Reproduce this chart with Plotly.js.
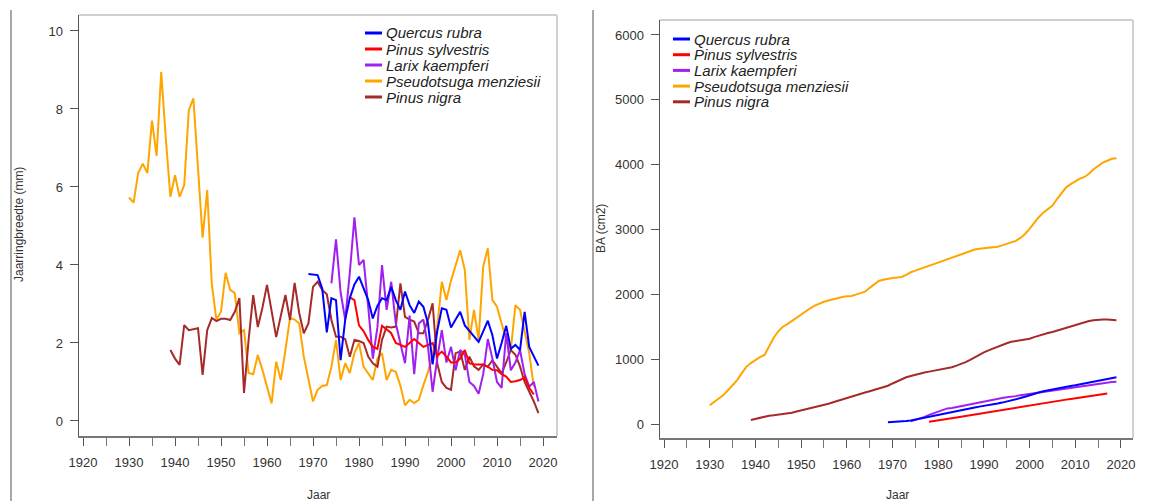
<!DOCTYPE html>
<html><head><meta charset="utf-8">
<script src="https://cdn.plot.ly/plotly-3.0.1.min.js"></script>
<style>html,body{margin:0;padding:0;background:#fff}#chart{width:1161px;height:501px}</style>
</head><body><div id="chart"></div><script>
// ---- data ----
const speciesNames = ['Quercus rubra','Pinus sylvestris','Larix kaempferi','Pseudotsuga menziesii','Pinus nigra'];
const speciesColors = ['#0000ff','#ff0000','#a020f0','#ffa500','#a52a2a'];

// ring width (mm), first year of each series
const rwStart = {quercus:1969, sylvestris:1978, larix:1974, pseudotsuga:1930, nigra:1939};
const rwQuercus = [3.77,3.76,3.74,3.4,2.27,3.15,3.1,1.56,2.6,3.15,3.5,3.7,3.4,3.1,2.63,2.95,3.15,3.1,3.44,3.1,2.85,3.32,2.97,2.77,3.06,2.93,2.5,1.45,2.3,2.89,2.85,2.4,2.6,2.8,2.45,2.3,2.15,2.03,2.3,2.57,2.2,1.6,2.0,2.44,1.85,1.95,1.82,2.8,1.9,1.65,1.42];
const rwSylvestris = [3.17,3.1,2.45,2.3,2.08,1.9,1.85,2.44,2.35,2.25,2.0,1.95,1.9,2.0,2.1,2.0,1.9,1.95,2.0,1.67,1.78,1.65,1.5,1.5,1.6,1.82,1.48,1.45,1.45,1.45,1.39,1.31,1.3,1.2,1.14,1.0,1.02,1.05,1.12,0.85,0.68];
const rwLarix = [3.53,4.66,3.3,2.6,3.8,5.22,4.0,4.13,2.93,1.6,2.4,4.0,2.85,3.57,2.5,2.0,1.48,2.7,1.2,2.5,2.6,1.9,0.75,1.6,2.33,1.5,1.9,1.3,1.82,1.7,1.0,0.9,0.7,1.2,2.1,1.6,1.0,0.85,2.25,1.3,1.5,1.82,1.2,0.88,1.0,0.5];
const rwPseudotsuga = [5.73,5.6,6.36,6.6,6.36,7.7,6.8,8.95,7.25,5.75,6.3,5.75,6.05,7.97,8.27,6.36,4.7,5.92,3.5,2.6,2.8,3.8,3.36,3.28,2.25,2.33,1.23,1.2,1.69,1.31,0.88,0.45,1.52,1.05,1.82,2.64,2.6,2.5,1.65,1.1,0.5,0.8,0.9,0.92,1.39,2.08,1.05,1.48,1.23,1.74,2.0,1.39,1.23,1.05,1.6,1.74,1.05,1.31,1.26,0.9,0.4,0.54,0.46,0.54,0.92,1.26,1.7,2.4,3.57,3.1,3.6,4.0,4.38,3.87,2.08,2.85,2.08,3.96,4.43,3.1,2.93,2.5,2.08,1.82,2.97,2.85,2.25,1.74,0.88];
const rwNigra = [1.82,1.6,1.44,2.46,2.33,2.35,2.38,1.18,2.33,2.64,2.56,2.62,2.62,2.59,2.8,3.15,0.72,2.08,3.23,2.41,2.9,3.49,2.77,2.15,2.7,3.23,2.59,3.54,2.77,2.25,2.5,3.44,3.57,3.36,3.25,2.59,2.16,2.16,2.1,1.65,2.08,2.05,2.0,1.65,1.48,1.39,2.08,2.42,2.4,2.42,3.53,2.67,2.6,2.55,2.25,2.25,2.6,3.02,1.48,1.0,0.85,0.8,1.74,1.78,1.31,1.65,1.4,1.31,1.45,1.39,1.56,1.4,1.22,1.5,1.82,1.7,1.4,1.0,0.75,0.5,0.2];

// basal area (cm2), first year of each series
const baStart = {quercus:1969, sylvestris:1978, larix:1974, pseudotsuga:1930, nigra:1939};
const baQuercus = [25,28,32,36,45,55,70,85,100,115,130,145,160,175,190,205,220,232,245,256,268,278,288,298,315,330,345,360,380,400,420,445,465,485,505,520,535,548,560,572,585,597,610,622,635,650,665,680,695,710,720];
const baSylvestris = [36,45,55,66,77,88,99,111,123,135,147,158,170,181,193,204,215,227,238,250,261,273,284,296,308,319,331,342,353,365,376,387,398,410,421,432,443,453,463,472];
const baLarix = [40,60,85,110,140,165,195,225,240,248,262,280,295,315,328,342,352,365,375,388,402,412,418,430,445,455,468,478,490,502,510,518,525,535,548,560,570,578,592,602,612,625,633,640,648,652];
const baPseudotsuga = [290,340,395,446,520,600,677,780,882,940,990,1030,1065,1200,1330,1430,1500,1540,1590,1630,1680,1735,1785,1825,1860,1885,1905,1925,1940,1960,1970,1975,1995,2015,2040,2100,2160,2205,2225,2240,2250,2258,2268,2300,2340,2365,2390,2415,2440,2470,2497,2525,2550,2575,2600,2625,2650,2675,2690,2703,2710,2715,2720,2735,2755,2780,2800,2825,2870,2930,3010,3100,3190,3260,3320,3370,3470,3570,3650,3700,3745,3785,3810,3860,3930,3985,4030,4060,4090,4100];
const baNigra = [62,80,100,118,128,136,145,150,160,175,192,208,225,245,262,280,290,312,335,358,380,402,425,446,465,485,505,525,545,565,590,625,660,695,720,740,762,780,795,808,822,835,848,860,875,900,925,955,990,1030,1070,1105,1135,1165,1190,1215,1245,1268,1280,1288,1295,1315,1340,1365,1385,1403,1420,1442,1465,1487,1508,1530,1550,1570,1588,1600,1608,1612,1612,1605,1600];

const xTickVals = [1920,1930,1940,1950,1960,1970,1980,1990,2000,2010,2020];
const yTickValsRW = [0,2,4,6,8,10];
const yTickValsBA = [0,1000,2000,3000,4000,5000,6000];

// ---- build ----
function yearsFrom(start, vals){ return vals.map((v,i)=>start+i); }
const rwSeries = [rwQuercus, rwSylvestris, rwLarix, rwPseudotsuga, rwNigra];
const baSeries = [baQuercus, baSylvestris, baLarix, baPseudotsuga, baNigra];
const keys = ['quercus','sylvestris','larix','pseudotsuga','nigra'];
const drawOrder = [3,4,2,1,0];

const traces = [];
drawOrder.forEach(i=>{
  traces.push({type:'scatter',mode:'lines',name:speciesNames[i],
    x:yearsFrom(rwStart[keys[i]], rwSeries[i]), y:rwSeries[i],
    line:{color:speciesColors[i],width:2}, xaxis:'x', yaxis:'y', showlegend:false, hoverinfo:'x+y'});
});
drawOrder.forEach(i=>{
  traces.push({type:'scatter',mode:'lines',name:speciesNames[i],
    x:yearsFrom(baStart[keys[i]], baSeries[i]), y:baSeries[i],
    line:{color:speciesColors[i],width:2}, xaxis:'x2', yaxis:'y2', showlegend:false, hoverinfo:'x+y'});
});

const W=1161, H=501;
const px = v=>v/W, py = v=>1-v/H;
const FONT = '"Liberation Sans", Arial, sans-serif';
const tickFont = {family:FONT,size:13,color:'#333'};

function xAxis(dom, range, anchor){
  return {domain:dom, range:range, anchor:anchor, tickmode:'array', tickvals:xTickVals,
    ticks:'outside', ticklen:8, tickwidth:1, tickcolor:'#555', ticklabelstandoff:6,
    minor:{tickmode:'linear', tick0:1925, dtick:10, ticks:'outside', ticklen:8, tickwidth:1, tickcolor:'#777', showgrid:false},
    showline:true, linecolor:'#777', linewidth:1.5, showgrid:false, zeroline:false,
    tickfont:tickFont, automargin:false, fixedrange:true};
}
function yAxis(dom, range, anchor, vals){
  return {domain:dom, range:range, anchor:anchor, tickmode:'array', tickvals:vals,
    ticks:'outside', ticklen:8, tickwidth:1, tickcolor:'#555', ticklabelstandoff:4,
    showline:true, linecolor:'#555', linewidth:1.5, showgrid:false, zeroline:false,
    tickfont:tickFont, automargin:false, fixedrange:true};
}

const shapes = [
  // panel frame lines
  {type:'line',xref:'paper',yref:'paper',x0:px(11),x1:px(11),y0:py(10),y1:0,line:{color:'#a8a8a8',width:2}},
  {type:'line',xref:'paper',yref:'paper',x0:px(593),x1:px(593),y0:py(10),y1:0,line:{color:'#a8a8a8',width:2}},
  // top/right box borders
  {type:'line',xref:'x domain',yref:'y domain',x0:0,x1:1,y0:1,y1:1,line:{color:'#d0d0d0',width:2}},
  {type:'line',xref:'x domain',yref:'y domain',x0:1,x1:1,y0:0,y1:1,line:{color:'#d0d0d0',width:2}},
  {type:'line',xref:'x2 domain',yref:'y2 domain',x0:0,x1:1,y0:1,y1:1,line:{color:'#d0d0d0',width:2}},
  {type:'line',xref:'x2 domain',yref:'y2 domain',x0:1,x1:1,y0:0,y1:1,line:{color:'#d0d0d0',width:2}}
];
const annotations = [
  {text:'Jaar',xref:'paper',yref:'paper',x:px(318),y:py(495),showarrow:false,xanchor:'center',yanchor:'middle',font:{family:FONT,size:12,color:'#333'}},
  {text:'Jaar',xref:'paper',yref:'paper',x:px(897),y:py(495),showarrow:false,xanchor:'center',yanchor:'middle',font:{family:FONT,size:12,color:'#333'}},
  {text:'Jaarringbreedte (mm)',xref:'paper',yref:'paper',x:px(19),y:py(225),textangle:-90,showarrow:false,xanchor:'center',yanchor:'middle',font:{family:FONT,size:12,color:'#333'}},
  {text:'BA (cm2)',xref:'paper',yref:'paper',x:px(601),y:py(229),textangle:-90,showarrow:false,xanchor:'center',yanchor:'middle',font:{family:FONT,size:12,color:'#333'}}
];
// legends (one per panel)
const legends = [{lx:365, tx:384, y0:33, dy:16}, {lx:673, tx:692, y0:39, dy:15.7}];
legends.forEach(L=>{
  speciesNames.forEach((n,i)=>{
    const yy = L.y0 + i*L.dy;
    shapes.push({type:'line',xref:'paper',yref:'paper',x0:px(L.lx),x1:px(L.lx+17),y0:py(yy),y1:py(yy),line:{color:speciesColors[i],width:3}});
    annotations.push({text:'<i>'+n+'</i>',xref:'paper',yref:'paper',x:px(L.tx),y:py(yy),showarrow:false,xanchor:'left',yanchor:'middle',font:{family:FONT,size:15,color:'#222'}});
  });
});

const layout = {
  width:W, height:H, margin:{l:0,r:0,t:0,b:0}, paper_bgcolor:'#fff', plot_bgcolor:'#fff',
  showlegend:false,
  xaxis: xAxis([px(79),px(557)], [1919.13,2023.04], 'y'),
  yaxis: yAxis([py(436),py(15)], [-0.385,10.41], 'x', yTickValsRW),
  xaxis2: xAxis([px(660),px(1133)], [1919.12,2022.63], 'y2'),
  yaxis2: yAxis([py(438),py(20)], [-216,6231], 'x2', yTickValsBA),
  shapes:shapes, annotations:annotations
};
Plotly.newPlot('chart', traces, layout, {displayModeBar:false, staticPlot:true});
</script></body></html>
